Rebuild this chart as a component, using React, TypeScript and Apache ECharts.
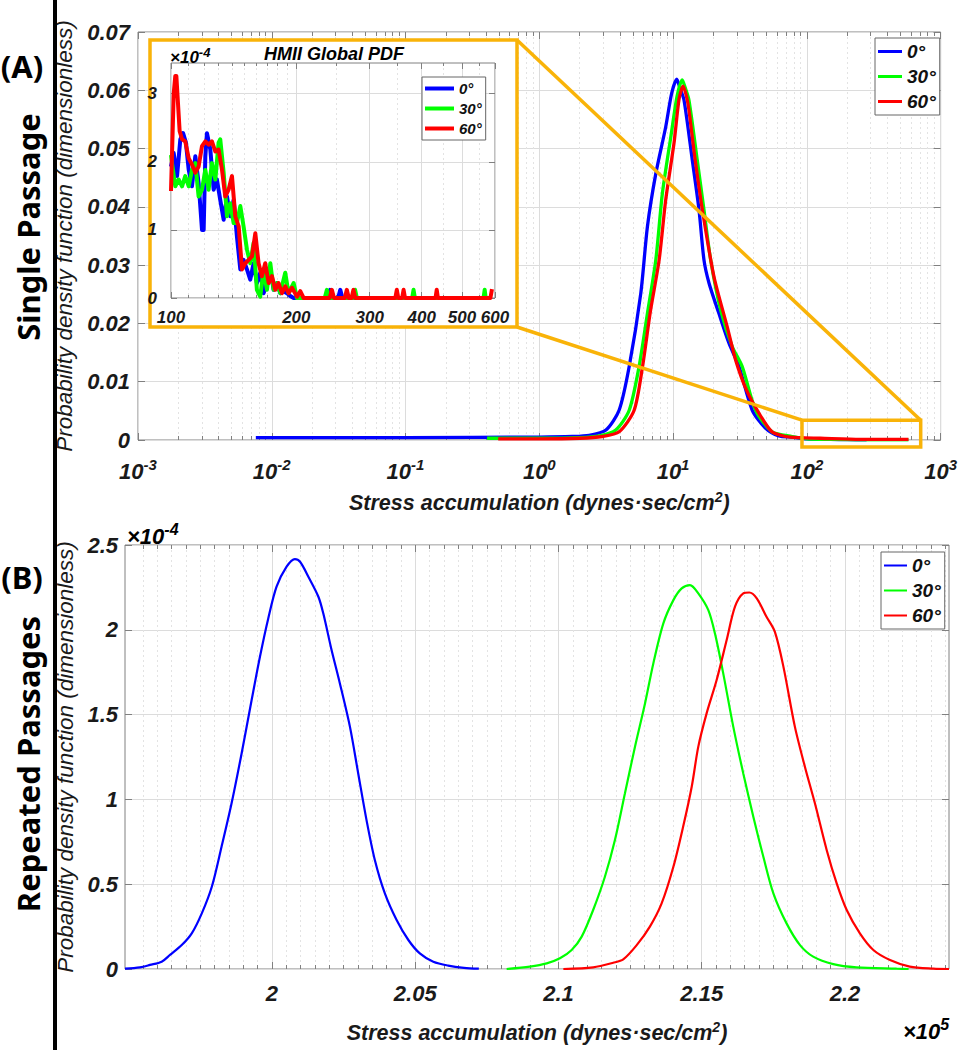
import React, { useEffect, useRef } from 'react';
import * as echarts from 'echarts';

// ---------------- DATA ----------------
const seriesNames = ['0°', '30°', '60°'];
const seriesColors = ['#0000FF', '#00FF00', '#FF0000'];

// Panel A (single passage): stress accumulation (dynes·sec/cm²) vs PDF
const stressA0 = [0.0076, 0.1, 1.0, 1.76, 2.36, 3.15, 3.95, 4.7, 5.74, 6.43, 7.43, 8.81, 9.77, 10.66, 11.22, 12.08, 13.93, 15.63, 17.02, 18.58, 22.03, 26.18, 31.12, 39.08, 49.2, 61.8, 77.3, 100, 150, 200, 280];
const pdfA0 = [0.0004, 0.0004, 0.0005, 0.0006, 0.0008, 0.0017, 0.0051, 0.0126, 0.0252, 0.0366, 0.0457, 0.0537, 0.0595, 0.0619, 0.0605, 0.0583, 0.048, 0.0395, 0.0309, 0.0269, 0.0217, 0.0166, 0.0126, 0.0051, 0.002, 0.0007, 0.0005, 0.0002, 0.0001, 0.00005, 0.00002];
const stressA30 = [0.407, 1.0, 2.0, 2.81, 3.73, 4.7, 5.57, 6.46, 7.43, 8.32, 9.62, 10.72, 11.72, 12.3, 13.15, 15.17, 17.02, 19.1, 22.7, 27.73, 32.89, 41.4, 55.08, 77.62, 100, 150, 250, 400, 575];
const pdfA30 = [0.0003, 0.0003, 0.0004, 0.0007, 0.0017, 0.0051, 0.0126, 0.022, 0.0309, 0.0423, 0.052, 0.059, 0.0618, 0.0605, 0.0583, 0.048, 0.0395, 0.0309, 0.0223, 0.016, 0.0126, 0.0051, 0.0014, 0.0006, 0.0002, 0.0001, 0.00003, 0.00002, 0.00002];
const stressA60 = [0.493, 1.0, 2.0, 2.965, 3.954, 5.117, 5.902, 6.761, 7.87, 8.81, 10.16, 11.09, 11.89, 12.59, 13.15, 14.45, 16.56, 20.23, 25.41, 29.38, 35.48, 43.85, 54.83, 69.34, 87.1, 125.9, 251.2, 575.4];
const pdfA60 = [0.0002, 0.0002, 0.0003, 0.0006, 0.0014, 0.0051, 0.0125, 0.022, 0.0309, 0.0412, 0.0509, 0.0585, 0.0607, 0.059, 0.0566, 0.049, 0.0395, 0.028, 0.0194, 0.0137, 0.0085, 0.0046, 0.0014, 0.0006, 0.0004, 0.0003, 0.0001, 0.0001];

// Inset "HMII Global PDF": [stress, PDF ×1e-4]
const inset0 = [[100, 1.93], [101.5, 2.13], [103.4, 1.79], [105.3, 2.33], [106.9, 2.42], [108.6, 2.28], [110.3, 1.88], [112.3, 1.64], [114.4, 2.08], [116.5, 1.69], [118.7, 1.0], [119.8, 1.0], [120.9, 2.08], [122.0, 2.42], [124.3, 2.18], [126.6, 1.59], [128.9, 1.74], [131.3, 1.44], [133.8, 1.15], [136.3, 1.49], [138.8, 1.2], [141.4, 1.44], [144.0, 0.9], [146.7, 0.42], [149.4, 0.56], [152.2, 0.42], [155.0, 0.27], [157.9, 0.51], [160.8, 0.22], [163.8, 0.37], [166.9, 0.07], [170.0, 0.22], [173.2, 0.42], [176.4, 0.12], [179.7, 0.22], [183.0, 0.07], [186.4, 0.1], [189.9, 0.07], [193.4, 0.03], [197.0, 0], [238, 0], [241, 0.12], [244, 0], [252, 0], [255, 0.12], [258, 0], [300, 0]];
const inset30 = [[100, 2.1], [100.55, 1.98], [102.4, 1.64], [104.3, 1.74], [106.3, 1.64], [108.2, 1.79], [110.3, 1.64], [112.3, 1.88], [114.4, 1.98], [116.5, 1.49], [118.7, 1.59], [120.9, 1.88], [123.1, 1.59], [125.4, 1.98], [127.8, 1.74], [130.1, 2.28], [131.3, 2.33], [133.8, 1.84], [136.3, 1.2], [138.8, 1.39], [141.4, 1.1], [144.0, 1.1], [146.7, 1.35], [149.4, 1.05], [152.2, 0.71], [155.0, 0.51], [157.9, 0.81], [160.8, 0.12], [163.8, 0.02], [166.9, 0.42], [170.0, 0.12], [173.2, 0.51], [176.4, 0.12], [179.7, 0.22], [183.0, 0.07], [188.1, 0.37], [191.6, 0.07], [197.0, 0.22], [200.7, 0], [234, 0], [236.8, 0.12], [239.5, 0], [274, 0], [276.8, 0.12], [279.5, 0], [379.5, 0], [382.4, 0.12], [385.3, 0], [563, 0], [566.7, 0.12], [570, 0], [575, 0]];
const inset60 = [[100, 1.57], [101.5, 3.0], [102.4, 3.26], [103.0, 3.26], [104.9, 2.45], [106.3, 2.33], [108.2, 2.3], [110.3, 2.05], [112.3, 1.96], [114.4, 1.84], [116.5, 1.93], [118.7, 2.23], [120.9, 2.3], [123.1, 2.25], [125.4, 2.3], [127.8, 2.15], [130.1, 2.18], [132.6, 1.88], [135.0, 1.49], [137.5, 1.59], [140.1, 1.79], [142.7, 1.2], [145.4, 1.05], [148.1, 0.42], [150.8, 0.51], [153.6, 0.56], [156.5, 0.61], [159.4, 0.95], [162.3, 0.51], [165.3, 0.32], [168.4, 0.51], [171.6, 0.22], [174.8, 0.32], [178.0, 0.12], [181.3, 0.22], [184.7, 0.07], [188.1, 0.17], [191.6, 0.07], [195.2, 0.15], [200.7, 0.02], [204.4, 0.1], [208.2, 0], [240.5, 0], [243.4, 0.12], [246.3, 0], [261.5, 0], [264.4, 0.12], [267.3, 0], [271.4, 0], [274.3, 0.12], [277.2, 0], [345.7, 0], [348.6, 0.12], [351.5, 0], [359, 0], [361.9, 0.12], [364.8, 0], [431.8, 0], [434.7, 0.12], [437.6, 0], [585, 0], [590, 0.13]];

// Panel B (repeated passages): [stress ×1e5, PDF ×1e-4]
const passB0 = [[1.9487, 0.002], [1.9539, 0.01], [1.9574, 0.024], [1.9615, 0.043], [1.9644, 0.083], [1.9685, 0.141], [1.972, 0.21], [1.9755, 0.328], [1.979, 0.485], [1.9824, 0.721], [1.9859, 0.977], [1.9894, 1.271], [1.9929, 1.586], [1.9958, 1.841], [1.9987, 2.067], [2.0016, 2.254], [2.0051, 2.372], [2.008, 2.417], [2.0098, 2.401], [2.0127, 2.313], [2.0162, 2.195], [2.0179, 2.097], [2.0208, 1.881], [2.0237, 1.684], [2.0272, 1.429], [2.0301, 1.153], [2.033, 0.878], [2.0359, 0.643], [2.0394, 0.446], [2.0435, 0.289], [2.0476, 0.171], [2.0516, 0.092], [2.0563, 0.043], [2.0615, 0.02], [2.067, 0.007], [2.0722, 0.002]];
const passB30 = [[2.0819, 0], [2.09, 0.014], [2.0959, 0.033], [2.1005, 0.063], [2.1046, 0.112], [2.1081, 0.191], [2.1121, 0.348], [2.1162, 0.544], [2.1197, 0.76], [2.1232, 1.036], [2.1267, 1.311], [2.1302, 1.566], [2.1331, 1.802], [2.1366, 2.038], [2.1401, 2.175], [2.143, 2.244], [2.1459, 2.264], [2.1488, 2.215], [2.1523, 2.116], [2.1546, 1.979], [2.1575, 1.743], [2.161, 1.429], [2.1645, 1.153], [2.168, 0.898], [2.1715, 0.662], [2.175, 0.446], [2.1796, 0.269], [2.1843, 0.141], [2.1889, 0.073], [2.1959, 0.029], [2.204, 0.01], [2.218, 0.002], [2.2222, 0]];
const passB60 = [[2.1017, 0], [2.1121, 0.01], [2.1191, 0.037], [2.1226, 0.057], [2.1273, 0.141], [2.1319, 0.25], [2.136, 0.387], [2.1401, 0.603], [2.1435, 0.839], [2.1465, 1.075], [2.1488, 1.311], [2.1517, 1.507], [2.1552, 1.704], [2.1587, 1.94], [2.1616, 2.136], [2.1645, 2.215], [2.1666, 2.22], [2.1692, 2.185], [2.1726, 2.077], [2.1755, 1.989], [2.1785, 1.783], [2.1825, 1.429], [2.186, 1.193], [2.1895, 0.977], [2.1936, 0.702], [2.1971, 0.505], [2.2006, 0.348], [2.2052, 0.21], [2.2099, 0.112], [2.2157, 0.053], [2.2226, 0.014], [2.2308, 0.002], [2.2363, 0]];

// Axis ticks / ranges
const aDecades = [-3, 3];
const aYTicks = [0, 0.07, 0.01];
const insetXTicks = [100, 200, 300, 400, 500, 600];
const insetXMinor = [110, 120, 130, 140, 150, 160, 170, 180, 190, 250, 350, 450, 550];
const insetYTicks = [0, 1, 2, 3];
const insetYMax = 3.45;
const bXTicks = [2, 2.05, 2.1, 2.15, 2.2];
const bXRange = [1.9487, 2.2363];
const bYTicks = [0, 2.5, 0.5];
const zoomBoxStress = [92, 710];
const zoomBoxPdf = [-0.0012, 0.0034];

// ---------------- STYLE ----------------
const FONT = '"Liberation Sans", Arial, Helvetica, sans-serif';
const PANEL_FONT = '"Noto Sans", "Open Sans", sans-serif';
const TXT = '#1a1a1a';
const AX = '#808080';
const GMAJ = '#dcdcdc';
const GMIN = '#e3e3e3';
const ORANGE = '#F9B308';
const BI: any = { fontFamily: FONT, fontWeight: 'bold', fontStyle: 'italic', color: TXT };

function ticks(len: number, custom?: number[]) {
  const t: any = { show: true, inside: true, length: len, lineStyle: { color: AX, width: 1 } };
  if (custom) t.customValues = custom;
  return t;
}
function axis(o: any) {
  return {
    type: 'value',
    axisLine: { show: false, onZero: false },
    splitLine: { show: false },
    axisLabel: { show: false },
    ...o,
  };
}
const majorSplit = { show: true, lineStyle: { color: GMAJ, width: 1 } };
const minorSplit = { show: true, lineStyle: { color: GMIN, width: 1, type: [2, 3] } };

const stressName = 'Stress accumulation (dynes·sec/cm{s|2})';
const nameStyleX = { ...BI, fontSize: 21.5, rich: { s: { ...BI, fontSize: 14, padding: [0, 0, 12, 0] } } };
const nameStyleY = { fontFamily: FONT, fontStyle: 'italic', fontWeight: 'normal', fontSize: 22.5, color: TXT };

function buildOption() {
  const aMinor: number[] = [];
  for (let n = aDecades[0]; n < aDecades[1]; n++) for (let k = 2; k <= 9; k++) aMinor.push(n + Math.log10(k));
  const insetMaj = insetXTicks.map((v) => Math.log10(v));
  const insetMin = insetXMinor.map((v) => Math.log10(v));
  const bMinor: number[] = [];
  for (let i = 0; ; i++) {
    const v = Math.round((1.95 + i * 0.005) * 1000) / 1000;
    if (v > bXRange[1]) break;
    if (Math.abs(v * 20 - Math.round(v * 20)) > 1e-6) bMinor.push(v);
  }
  const xA = { gridIndex: 0, min: aDecades[0], max: aDecades[1], interval: 1 };
  const yA = { gridIndex: 0, min: aYTicks[0], max: aYTicks[1], interval: aYTicks[2] };
  const xI = { gridIndex: 1, min: 2, max: Math.log10(600), z: 5 };
  const yI = { gridIndex: 1, min: 0, max: insetYMax, z: 5 };
  const xB = { gridIndex: 2, min: bXRange[0], max: bXRange[1] };
  const yB = { gridIndex: 2, min: bYTicks[0], max: bYTicks[1], interval: bYTicks[2] };

  const xAxis = [
    // 0..3 panel A
    axis({
      ...xA, position: 'bottom', axisTick: ticks(7), splitLine: majorSplit,
      axisLabel: {
        show: true, margin: 17,
        formatter: (v: number) => `{b|10}{s|${Math.round(v)}}`,
        rich: { b: { ...BI, fontSize: 22 }, s: { ...BI, fontSize: 15, padding: [0, 0, 14, 0] } },
      },
      name: stressName, nameLocation: 'middle', nameGap: 50, nameTextStyle: nameStyleX,
    }),
    axis({ ...xA, position: 'top', axisTick: ticks(7) }),
    axis({ ...xA, interval: undefined, position: 'bottom', axisTick: ticks(4, aMinor), splitLine: minorSplit }),
    axis({ ...xA, interval: undefined, position: 'top', axisTick: ticks(4, aMinor) }),
    // 4..7 inset
    axis({
      ...xI, position: 'bottom', axisTick: ticks(6, insetMaj), splitLine: majorSplit,
      axisLabel: { show: true, customValues: insetMaj, margin: 11, ...BI, fontSize: 17, formatter: (v: number) => String(Math.round(Math.pow(10, v))) },
    }),
    axis({ ...xI, position: 'top', axisTick: ticks(6, insetMaj) }),
    axis({ ...xI, position: 'bottom', axisTick: ticks(3, insetMin), splitLine: minorSplit }),
    axis({ ...xI, position: 'top', axisTick: ticks(3, insetMin) }),
    // 8..11 panel B
    axis({
      ...xB, position: 'bottom', axisTick: ticks(7, bXTicks), splitLine: majorSplit,
      axisLabel: { show: true, customValues: bXTicks, margin: 13, ...BI, fontSize: 22, formatter: (v: number) => String(+v.toFixed(2)) },
      name: stressName, nameLocation: 'middle', nameGap: 51, nameTextStyle: nameStyleX,
    }),
    axis({ ...xB, position: 'top', axisTick: ticks(7, bXTicks) }),
    axis({ ...xB, position: 'bottom', axisTick: ticks(4, bMinor), splitLine: minorSplit }),
    axis({ ...xB, position: 'top', axisTick: ticks(4, bMinor) }),
  ];
  const yAxis = [
    axis({
      ...yA, position: 'left', axisTick: ticks(7), splitLine: majorSplit,
      axisLabel: { show: true, margin: 8, ...BI, fontSize: 22 },
      name: 'Probability density function (dimensionless)', nameLocation: 'middle', nameGap: 52, nameTextStyle: nameStyleY,
    }),
    axis({ ...yA, position: 'right', axisTick: ticks(7) }),
    axis({
      ...yI, position: 'left', axisTick: ticks(6, insetYTicks), splitLine: majorSplit,
      axisLabel: { show: true, customValues: insetYTicks, margin: 14, ...BI, fontSize: 17 },
    }),
    axis({ ...yI, position: 'right', axisTick: ticks(6, insetYTicks) }),
    axis({
      ...yB, position: 'left', axisTick: ticks(7), splitLine: majorSplit,
      axisLabel: { show: true, margin: 7, ...BI, fontSize: 22 },
      name: 'Probability density function (dimensionless)', nameLocation: 'middle', nameGap: 40, nameTextStyle: nameStyleY,
    }),
    axis({ ...yB, position: 'right', axisTick: ticks(7) }),
  ];

  const aData = [
    stressA0.map((s, i) => [Math.log10(s), pdfA0[i]]),
    stressA30.map((s, i) => [Math.log10(s), pdfA30[i]]),
    stressA60.map((s, i) => [Math.log10(s), pdfA60[i]]),
  ];
  const iData = [inset0, inset30, inset60].map((arr) => arr.map(([s, p]) => [Math.log10(s), p]));
  const bData = [passB0, passB30, passB60];

  const series: any[] = [];
  seriesNames.forEach((name, k) => {
    series.push({
      type: 'line', name, data: aData[k], xAxisIndex: 0, yAxisIndex: 0, symbol: 'none',
      smooth: 0.25, lineStyle: { color: seriesColors[k], width: 3.3 }, itemStyle: { color: seriesColors[k] }, z: 2,
    });
  });
  seriesNames.forEach((name, k) => {
    series.push({
      type: 'line', name, data: iData[k], xAxisIndex: 4, yAxisIndex: 2, symbol: 'none',
      lineStyle: { color: seriesColors[k], width: 4, join: 'round' }, itemStyle: { color: seriesColors[k] }, z: 6,
    });
  });
  seriesNames.forEach((name, k) => {
    series.push({
      type: 'line', name, data: bData[k], xAxisIndex: 8, yAxisIndex: 4, symbol: 'none',
      smooth: 0.3, lineStyle: { color: seriesColors[k], width: 2.2 }, itemStyle: { color: seriesColors[k] }, z: 2,
    });
  });

  const legend = (left: number, top: number, size: number, lh: number, gap: number, iw: number, ih: number) => ({
    data: seriesNames, orient: 'vertical', left, top, itemWidth: iw, itemHeight: ih, itemGap: gap, icon: 'rect',
    padding: [3, 4, 3, 3], backgroundColor: '#fff', borderColor: '#666', borderWidth: 1, selectedMode: false, z: 8,
    textStyle: { ...BI, fontSize: size, lineHeight: lh, color: '#111' },
  });

  return {
    animation: false,
    backgroundColor: '#fff',
    textStyle: { fontFamily: FONT },
    grid: [
      { left: 138, top: 32, width: 804, height: 408, show: true, borderColor: AX, borderWidth: 1, backgroundColor: 'transparent' },
      { left: 171, top: 63, width: 324, height: 235, show: true, borderColor: AX, borderWidth: 1, backgroundColor: '#fff', z: 4 },
      { left: 125, top: 545, width: 824, height: 424, show: true, borderColor: AX, borderWidth: 1, backgroundColor: 'transparent' },
    ],
    xAxis,
    yAxis,
    legend: [
      legend(875, 38, 19, 21, 4, 24, 3),
      legend(422, 77, 15, 17, 3, 29, 4),
      legend(881, 552, 19, 21, 4, 23, 2),
    ],
    series,
  };
}

const biFont = (size: number) => `italic bold ${size}px ${FONT}`;

function txt(id: string, x: number, y: number, text: string, font: string, align = 'left', extra: any = {}, rich?: any) {
  const style: any = { text, font, fill: '#000', align, verticalAlign: 'middle', legacy: false };
  if (rich) style.rich = rich;
  return { type: 'text', id, x, y, z: 20, silent: true, ...extra, style };
}

export default function App() {
  const ref = useRef<HTMLDivElement>(null);
  useEffect(() => {
    const chart = echarts.init(ref.current as HTMLDivElement, null, { renderer: 'svg' });
    chart.setOption(buildOption() as any);
    const tl = chart.convertToPixel({ seriesIndex: 0 } as any, [Math.log10(zoomBoxStress[0]), zoomBoxPdf[1]]) as number[];
    const br = chart.convertToPixel({ seriesIndex: 0 } as any, [Math.log10(zoomBoxStress[1]), zoomBoxPdf[0]]) as number[];
    const frame = { x: 150, y: 40, w: 367, h: 287 };
    const expRich = (size: number, supSize: number, pad: number) => ({
      b: { font: biFont(size), fill: '#000' },
      s: { font: biFont(supSize), fill: '#000', padding: [0, 0, pad, 0] },
    });
    const panelFont = `bold 31px ${PANEL_FONT}`;
    chart.setOption({
      graphic: [
        { type: 'line', id: 'divider', z: 20, silent: true, shape: { x1: 55, y1: 0, x2: 55, y2: 1050 }, style: { stroke: '#000', lineWidth: 4 } },
        { type: 'rect', id: 'insetFrame', z: 1, silent: true, shape: { x: frame.x, y: frame.y, width: frame.w, height: frame.h }, style: { fill: '#fff', stroke: ORANGE, lineWidth: 3.5 } },
        { type: 'rect', id: 'zoomBox', z: 10, silent: true, shape: { x: tl[0], y: tl[1], width: br[0] - tl[0], height: br[1] - tl[1] }, style: { fill: 'none', stroke: ORANGE, lineWidth: 3.5 } },
        { type: 'line', id: 'conn1', z: 10, silent: true, shape: { x1: frame.x + frame.w, y1: frame.y, x2: br[0], y2: tl[1] }, style: { stroke: ORANGE, lineWidth: 3.5 } },
        { type: 'line', id: 'conn2', z: 10, silent: true, shape: { x1: frame.x + frame.w, y1: frame.y + frame.h, x2: tl[0], y2: tl[1] }, style: { stroke: ORANGE, lineWidth: 3.5 } },
        txt('panelA', 22, 66, '(A)', panelFont, 'center'),
        txt('panelAName', 28, 227, 'Single Passage', panelFont, 'center', { rotation: Math.PI / 2 }),
        txt('panelB', 22, 577, '(B)', panelFont, 'center'),
        txt('panelBName', 28, 764, 'Repeated Passages', panelFont, 'center', { rotation: Math.PI / 2 }),
        txt('insetTitle', 334, 54, 'HMII Global PDF', biFont(18), 'center'),
        txt('insetExp', 170, 57, '{b|×10}{s|-4}', biFont(17), 'left', {}, expRich(17, 13, 10)),
        txt('bYExp', 127, 536, '{b|×10}{s|-4}', biFont(22), 'left', {}, expRich(22, 16, 13)),
        txt('bXExp', 903, 1031, '{b|×10}{s|5}', biFont(22), 'left', {}, expRich(22, 16, 13)),
      ],
    } as any);
    return () => chart.dispose();
  }, []);
  return <div ref={ref} style={{ position: 'fixed', left: 0, top: 0, width: 960, height: 1050, background: '#fff' }} />;
}
